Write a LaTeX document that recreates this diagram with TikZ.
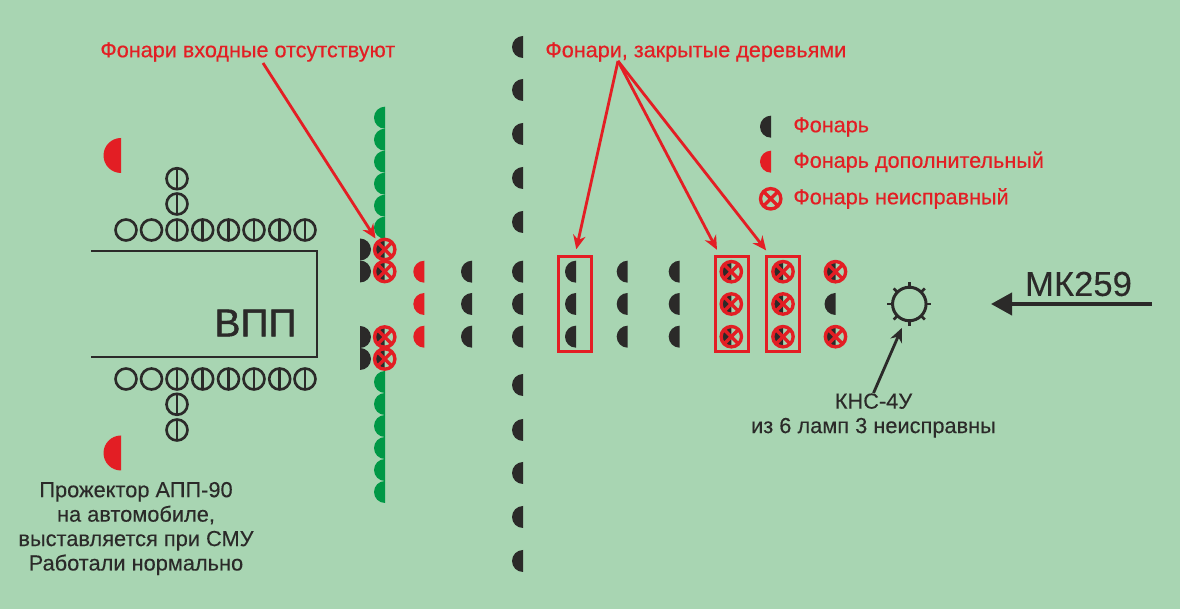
\documentclass[tikz,border=0pt]{standalone}
\usepackage{fontspec}
\setmainfont[FakeBold=0.2]{Liberation Sans}
\newfontfamily\redfont[FakeBold=0.45]{Liberation Sans}
\newfontfamily\vppfont[FakeBold=1.2]{Liberation Sans}
\usetikzlibrary{arrows.meta}
\definecolor{fon}{HTML}{A8D5B2}
\definecolor{lamp}{HTML}{2B2A29}
\definecolor{lampr}{HTML}{E31E24}
\definecolor{lampg}{HTML}{009846}

\tikzset{
	fonar/.pic={\path[pic actions] (0,-11) arc (-90:-270:11) -- cycle;},
	krest/.pic={\draw[lampr, line width=1.9pt] (0,0) circle (10.2) (-7.2,-7.2) -- (7.2,7.2) (-7.2,7.2) -- (7.2,-7.2);},
	neisp/.pic={\fill[lamp] (0,-11) arc (-90:-270:11) -- cycle; \pic {krest};},
	krug/.style={draw=lamp, circle, line width=1.5pt, minimum size=4.2mm, inner sep=0pt},
	krugl/.style={krug, path picture={\draw[lamp, line width=1.5pt] (path picture bounding box.north) -- (path picture bounding box.south);}},
	ramka/.style={draw=lampr, line width=1.8pt, minimum width=6.5mm, minimum height=19mm, inner sep=0pt},
	txt/.style={text=lamp, align=center, inner sep=0pt, font=\fontsize{12.4}{13.9}\selectfont},
	rtxt/.style={text=lampr, inner sep=0pt, font=\fontsize{12.3}{13.9}\selectfont\redfont},
	rline/.style={draw=lampr, line width=1.6pt, -{Stealth[length=2.8mm, width=2.5mm]}},
}

\begin{document}
\begin{tikzpicture}[x=0.2mm, y=-0.2mm]
	\fill[fon] (0,0) rectangle (1180,609);
	% ВПП
	\draw[lamp, line width=1.7pt] (91,251) -- (317,251) -- (317,357) -- (91,357);
	\node[text=lamp, inner sep=0pt, font=\fontsize{22.2}{24}\vppfont] (vpp) at (255.5,323) {ВПП};
	\fill[lampr] (121,138) arc (-90:-270:17.5) -- cycle;
	\fill[lampr] (121,435.5) arc (-90:-270:17.5) -- cycle;
	\foreach \i/\x in {1/126, 2/151.5} {
		\node[krug] (vt\i) at (\x,230) {};
		\node[krug] (nz\i) at (\x,379) {};
	}
	\foreach \i/\x in {3/177, 4/202.7, 5/228.5, 6/254, 7/279.7, 8/305} {
		\node[krugl] (vt\i) at (\x,230) {};
		\node[krugl] (nz\i) at (\x,379) {};
	}
	\node[krugl] (vt9) at (177,204) {};
	\node[krugl] (vt10) at (177,178.7) {};
	\node[krugl] (nz9) at (177,404.3) {};
	\node[krugl] (nz10) at (177,430) {};
	% зеленые
	\foreach \y in {117.7,139.7,161.7,183.7,205.7,227.7,382,404,426,448,470,492}
		\pic[fill=lampg] at (385,\y) {fonar};
	\foreach \y in {249.5,271.5,337,359} {
		\path[fill=lamp] (360,\y-11) arc (-90:90:11) -- cycle;
		\pic at (384.7,\y) {neisp};
	}
	% ряды
	\foreach \y in {271.7,304,336.7} {
		\pic[fill=lampr] at (424.3,\y) {fonar};
		\foreach \x in {472,523,576,627.7,679.7}
			\pic[fill=lamp] at (\x,\y) {fonar};
		\foreach \x in {731.3,783}
			\pic at (\x,\y) {neisp};
	}
	\foreach \y in {47,90,134,178,222,385,430,473,517,561}
		\pic[fill=lamp] at (523,\y) {fonar};
	\pic at (835.5,271.7) {neisp};
	\pic[fill=lamp] at (835.5,304) {fonar};
	\pic at (835.5,336.7) {neisp};
	\node[ramka] (box1) at (575,304.2) {};
	\node[ramka] (box2) at (732,304.2) {};
	\node[ramka] (box3) at (783,304.2) {};
	% подписи
	\node[rtxt, anchor=west] (fvh) at (100,52) {Фонари входные отсутствуют};
	\node[rtxt, anchor=west] (fzd) at (545,52) {Фонари, закрытые деревьями};
	\coordinate (fvhs) at (263,63);
	\coordinate (fzds) at (618,61);
	\coordinate (fvhe) at (375.5,238.5);
	\draw[rline] (fvhs) -- (fvhe);
	\draw[rline, shorten >=1.2mm] (fzds) -- (box1.north);
	\draw[rline, shorten >=1.2mm] (fzds) -- (box2.104);
	\draw[rline, shorten >=1.2mm] (fzds) -- (box3.105);
	% легенда
	\pic[fill=lamp] at (771,126.7) {fonar};
	\pic[fill=lampr] at (771,161.7) {fonar};
	\pic at (770.7,198.8) {krest};
	\node[rtxt, anchor=west] (lg1) at (793,127) {Фонарь};
	\node[rtxt, anchor=west] (lg2) at (793,162) {Фонарь дополнительный};
	\node[rtxt, anchor=west] (lg3) at (793,198.5) {Фонарь неисправный};
	% КНС
	\node[draw=lamp, circle, line width=1.7pt, minimum size=6.7mm, inner sep=0pt] (kns) at (909.3,304) {};
	\foreach \a in {0,45,...,315}
		\draw[lamp, line width=1.5pt] ([shift={(\a:17)}]kns.center) -- ([shift={(\a:22)}]kns.center);
	\node[txt] (knst) at (873.5,415.5) {КНС-4У\\из 6 ламп 3 неисправны};
	\draw[lamp, line width=1.6pt, -{Stealth[length=2.8mm, width=2.5mm]}, shorten >=1.4mm] (knst.north) -- (kns.-105);
	% МК
	\node[text=lamp, inner sep=0pt, font=\fontsize{19.7}{22}\selectfont] (mk) at (1078.5,284) {МК259};
	\coordinate (mks) at (1152,304);
	\coordinate (mke) at (991,304);
	\draw[lamp, line width=2.3pt, -{Triangle[length=4.2mm, width=4.4mm]}] (mks) -- (mke);
	\node[txt] (prj) at (136,528.5) {Прожектор АПП-90\\на автомобиле,\\выставляется при СМУ\\Работали нормально};
\end{tikzpicture}
\end{document}
